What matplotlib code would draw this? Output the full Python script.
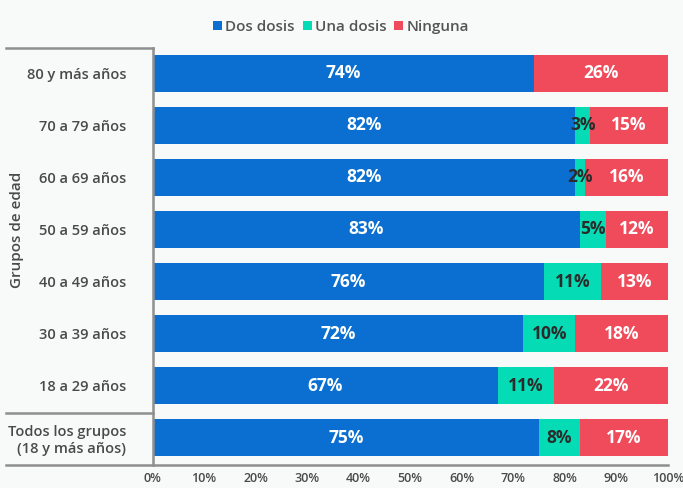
import matplotlib
matplotlib.use("Agg")
import matplotlib.pyplot as plt
from matplotlib.lines import Line2D
from matplotlib.patches import Patch

plt.rcParams['font.family'] = ['Open Sans', 'DejaVu Sans']

categories = ["80 y más años", "70 a 79 años", "60 a 69 años", "50 a 59 años",
              "40 a 49 años", "30 a 39 años", "18 a 29 años",
              "Todos los grupos\n(18 y más años)"]
dos_dosis = [74, 82, 82, 83, 76, 72, 67, 75]
una_dosis = [0, 3, 2, 5, 11, 10, 11, 8]
ninguna = [26, 15, 16, 12, 13, 18, 22, 17]
series_names = ["Dos dosis", "Una dosis", "Ninguna"]
x_ticks = [0, 10, 20, 30, 40, 50, 60, 70, 80, 90, 100]

colors = ["#0A6FD0", "#05DBB4", "#EF4B5A"]
label_colors = ["white", "#2b2b2b", "white"]
bg = "#f8f9f9"

W, H = 683, 488
fig = plt.figure(figsize=(W / 100, H / 100), dpi=100, facecolor=bg)
ax_left, ax_right = 152.5 / W, 667.7 / W
ax_top, ax_bot = 1 - 48 / H, 1 - 465 / H
ax = fig.add_axes([ax_left, ax_bot, ax_right - ax_left, ax_top - ax_bot])
ax.set_facecolor(bg)

ypos = list(range(len(categories)))
left = [0] * len(categories)
for vals, col, lc in zip([dos_dosis, una_dosis, ninguna], colors, label_colors):
    bars = ax.barh(ypos, vals, left=left, height=0.71, color=col)
    for b, v, l in zip(bars, vals, left):
        if v > 0:
            ax.text(l + v / 2, b.get_y() + b.get_height() / 2, f"{v}%",
                    ha="center", va="center", color=lc, fontsize=12.5,
                    fontweight="bold")
    left = [a + b for a, b in zip(left, vals)]

ax.set_xlim(0, 100)
ax.set_ylim(len(categories) - 1 + 0.52, -0.48)
ax.set_yticks(ypos)
ax.set_yticklabels(categories, fontsize=10.5, color="#4a4a4a", fontweight="semibold")
ax.set_xticks(x_ticks)
ax.set_xticklabels([f"{t}%" for t in x_ticks], fontsize=9, color="#4a4a4a",
                   fontweight="semibold")
ax.tick_params(axis="y", length=0, pad=19)
ax.tick_params(axis="x", length=0, pad=5)
for s in ["top", "right", "bottom", "left"]:
    ax.spines[s].set_visible(False)

gray = "#8f8f8f"
def hline(y, x0, x1):
    fig.add_artist(Line2D([x0 / W, x1 / W], [1 - y / H, 1 - y / H], color=gray, lw=1.8))
def vline(x, y0, y1):
    fig.add_artist(Line2D([x / W, x / W], [1 - y0 / H, 1 - y1 / H], color=gray, lw=1.8))

hline(48, 6, 152.5)
hline(413, 6, 152.5)
hline(465, 6, 668)
vline(152.5, 48, 465)

fig.text(17 / W, 1 - 230 / H, "Grupos de edad", rotation=90, ha="center", va="center",
         fontsize=11, color="#4a4a4a", fontweight="semibold")

handles = [Patch(facecolor=c, label=n) for c, n in zip(colors, series_names)]
leg = fig.legend(handles=handles, loc="center", bbox_to_anchor=(341 / W, 1 - 27 / H),
                 ncol=3, frameon=False, handlelength=0.6, handleheight=0.6,
                 handletextpad=0.2, columnspacing=0.5, fontsize=11)
for t in leg.get_texts():
    t.set_color("#555555")
    t.set_fontweight("semibold")

fig.savefig("out.png", dpi=100, facecolor=bg)
